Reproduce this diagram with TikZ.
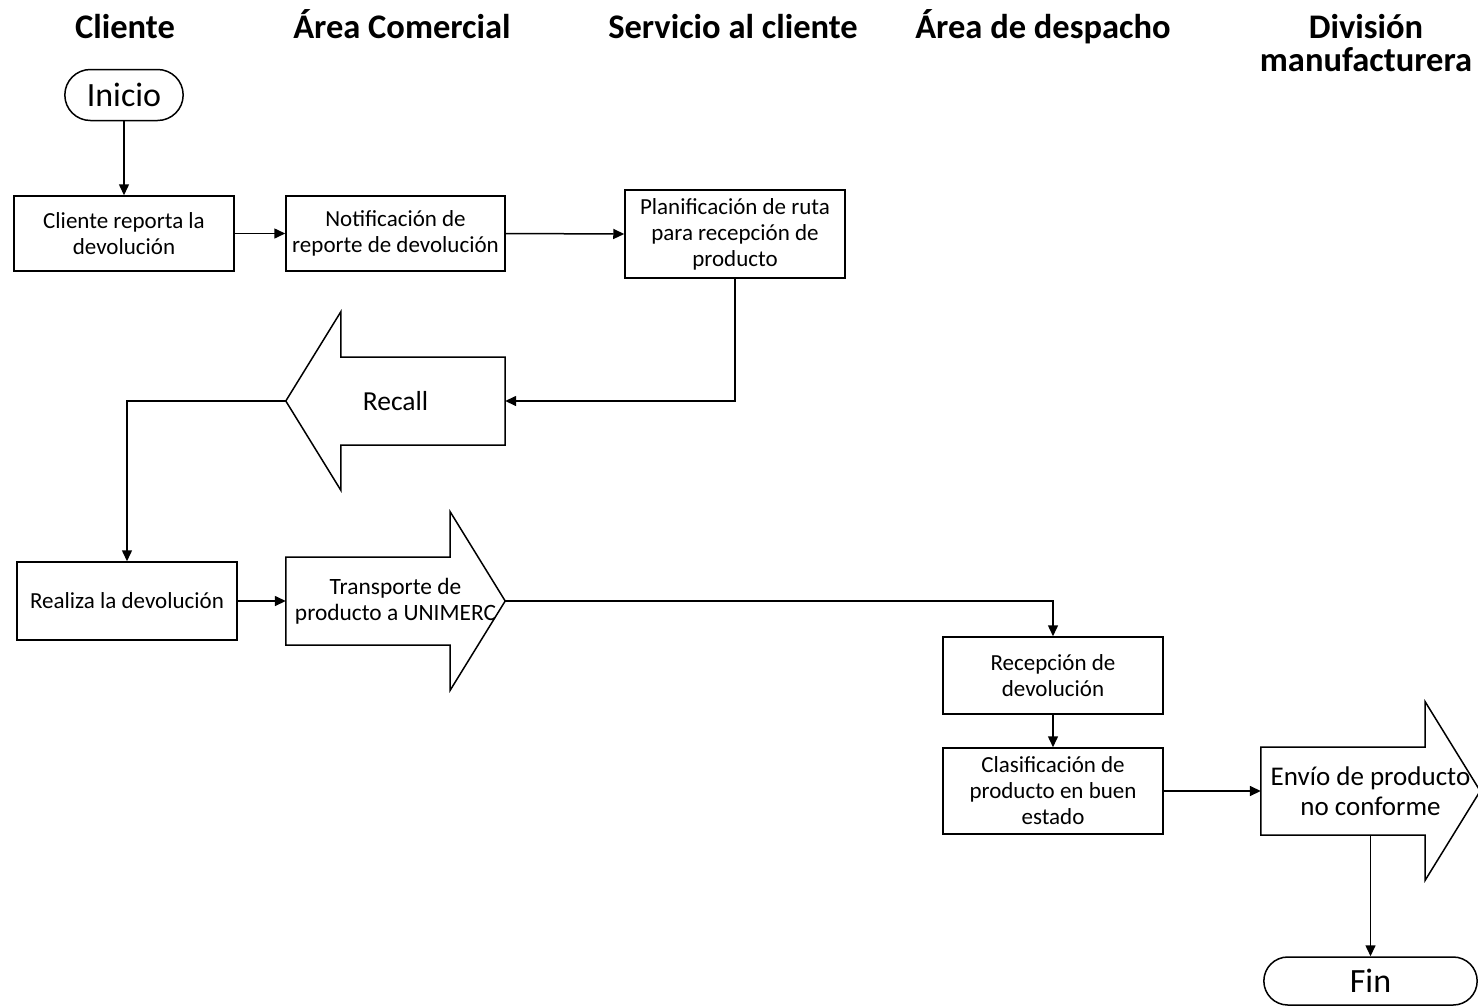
\documentclass[tikz,border=0pt]{standalone}
\usepackage{fontspec}
\setmainfont{Carlito}
\usetikzlibrary{arrows.meta,calc,shapes.misc}

% block arrows drawn round an invisible node (219 x 178)
\newcommand{\rightblock}[1]{%
	\draw[outline] ($(#1.west)+(0,-44)$) -- ($(#1.east)+(-55,-44)$) -- ($(#1.north east)+(-55,0)$) -- (#1.east) -- ($(#1.south east)+(-55,0)$) -- ($(#1.east)+(-55,44)$) -- ($(#1.west)+(0,44)$) -- cycle;}
\newcommand{\leftblock}[1]{%
	\draw[outline] ($(#1.east)+(0,-44)$) -- ($(#1.west)+(55,-44)$) -- ($(#1.north west)+(55,0)$) -- (#1.west) -- ($(#1.south west)+(55,0)$) -- ($(#1.west)+(55,44)$) -- ($(#1.east)+(0,44)$) -- cycle;}

\begin{document}
\begin{tikzpicture}[x=1pt, y=-1pt,
		outline/.style={draw=black, line width=1.5pt, line join=miter},
		head/.style={font=\fontsize{34.5}{33}\selectfont\bfseries, align=center},
		term/.style={rounded rectangle, draw, line width=1.5pt, font=\fontsize{34}{36}\selectfont},
		proc/.style={rectangle, draw, line width=1.5pt, minimum width=220pt, align=center, inner sep=0pt, font=\fontsize{23}{26}\selectfont},
		blk/.style={minimum width=219pt, minimum height=178pt, inner sep=0pt, align=center},
		flow/.style={line width=1.5pt, -{Triangle[length=11pt, width=10pt]}}]
		\useasboundingbox (0,0) rectangle (1478,1007);

		% lane titles
		\node[head, anchor=base] (hcli) at (125,38) {Cliente};
		\node[head, anchor=base] (hcom) at (402,38) {Área Comercial};
		\node[head, anchor=base] (hser) at (733,38) {Servicio al cliente};
		\node[head, anchor=base] (hdes) at (1043,38) {Área de despacho};
		\node[head] (hman) at (1366,43) {División\\manufacturera};

		\node[term, minimum width=125pt, minimum height=51pt] (inicio) at (124,95) {Inicio};
		\node[proc, minimum height=75pt] (reporta) at (124,233.5) {Cliente reporta la\\devolución};
		\node[proc, minimum width=219pt, minimum height=75pt] (notif) at (395.5,233.5) {Notificación de\\reporte de devolución};
		\node[proc, minimum height=88pt] (plan) at (735,234) {Planificación de ruta\\para recepción de\\producto};

		\node[blk, font=\fontsize{27.5}{30}\selectfont] (recall) at (395.5,401) {Recall};
		\leftblock{recall}

		\node[proc, minimum height=78pt] (realiza) at (127,601) {Realiza la devolución};
		\node[blk, font=\fontsize{23.4}{26}\selectfont] (transp) at (395.5,601) {Transporte de\\producto a UNIMERC};
		\rightblock{transp}

		\node[proc, minimum height=77pt] (recep) at (1053,675.5) {Recepción de\\devolución};
		\node[proc, minimum height=86pt] (clasif) at (1053,791) {Clasificación de\\producto en buen\\estado};
		\node[blk, font=\fontsize{27}{30}\selectfont] (envio) at (1370.5,791) {Envío de producto\\no conforme};
		\rightblock{envio}

		\node[term, minimum width=220pt, minimum height=48pt] (fin) at (1370.5,981) {Fin};

		\draw[flow] (inicio.south) -- (reporta.north);
		\draw[flow] (reporta.east) -- (notif.west);
		\draw[flow] (notif.east) -- (plan.west);
		\draw[flow] (plan.south) |- (recall.east);
		\draw[flow] (recall.west) -| (realiza.north);
		\draw[flow] (realiza.east) -- (transp.west);
		\draw[flow] (transp.east) -| (recep.north);
		\draw[flow] (recep.south) -- (clasif.north);
		\draw[flow] (clasif.east) -- (envio.west);
		\draw[flow] ($(envio.center)+(0,44)$) -- (fin.north);

	\end{tikzpicture}
\end{document}
